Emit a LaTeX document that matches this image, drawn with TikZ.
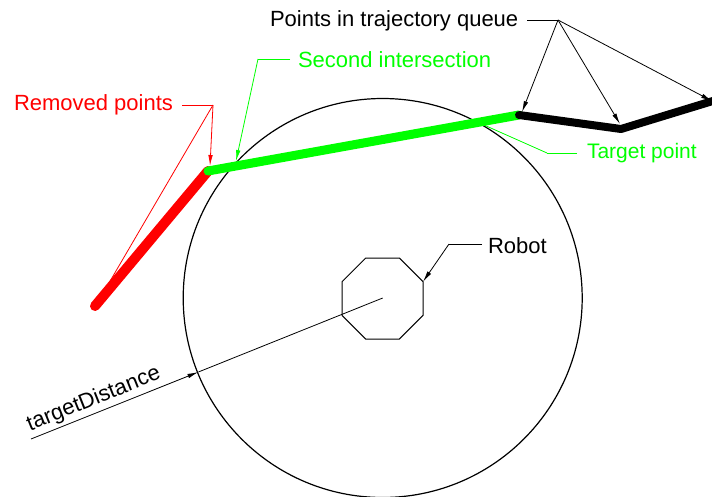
\documentclass[tikz,border=0pt]{standalone}
\usepackage{fontspec}
\setmainfont{Liberation Sans}
\usetikzlibrary{arrows.meta}
\definecolor{myred}{RGB}{255,0,0}
\definecolor{mygreen}{RGB}{0,255,0}
\begin{document}
\begin{tikzpicture}[x=1pt,y=-1pt,
  font=\fontsize{22}{26}\selectfont,
  lbl/.style={inner sep=0pt, outer sep=0pt, anchor=base west},
  leader/.style={line width=0.8pt, -{Latex[length=11pt,width=4.5pt]}},
  plainline/.style={line width=0.8pt},
  thickred/.style={myred, line width=10pt, line cap=round},
  thickgreen/.style={mygreen, line width=9pt, line cap=round},
  thickblack/.style={black, line width=8pt, line cap=round, line join=round},
  outline/.style={line width=1.2pt}
]
\useasboundingbox (0,0) rectangle (712,496);

% key points
\coordinate (C) at (382.7,298);
\coordinate (pR) at (95,306);
\coordinate (pG) at (208,171);
\coordinate (pB1) at (519,115);
\coordinate (pB2) at (621,129);
\coordinate (pB3) at (716,100);
\coordinate (tgt) at (470.5,119);
\coordinate (dimfar) at (31,439);
\coordinate (dimcirc) at (198.4,372);

% circle
\draw[outline] (C) circle[radius=199.5];

% octagon
\draw[plainline, line width=1pt] (365.7,258) -- (399.3,258) -- (423,281.7) -- (423,315.3)
  -- (399.3,339) -- (365.7,339) -- (342,315.3) -- (342,281.7) -- cycle;
\coordinate (rv) at (423,281.7);

% target point leader (under the green line)
\node[lbl, text=mygreen, font=\fontsize{21}{25}\selectfont] (ttp) at (587,158) {Target point};
\coordinate (tpk) at (547,153);
\draw[plainline, mygreen] (577,153) coordinate (tps) -- (tpk);
\draw[leader, mygreen] (tpk) -- (tgt);

% removed points leader lines (under the red)
\node[lbl, text=myred] (trp) at (14,110) {Removed points};
\coordinate (rpk) at (213,105);
\draw[plainline, myred] (182,105) coordinate (rps) -- (rpk);
\draw[leader, myred] (rpk) -- (99,300) coordinate (rpa);

% thick trajectory
\draw[thickred] (pR) -- (pG);
\draw[thickgreen] (pG) -- (pB1);
\draw[thickblack] (pB1) -- (pB2) -- (pB3);

\draw[leader, myred] (rpk) -- (210,166);

% second intersection
\node[lbl, text=mygreen] (tsi) at (298,67) {Second intersection};
\coordinate (sik) at (258,59);
\draw[plainline, mygreen] (290,59) -- (sik);
\draw[leader, mygreen] (sik) -- (236,161);

% points in trajectory queue
\node[lbl] (tq) at (270,26) {Points in trajectory queue};
\coordinate (qk) at (558,20);
\draw[plainline] (527,20) -- (qk);
\draw[leader] (qk) -- (522,112);
\draw[leader] (qk) -- (620,124);
\draw[leader] (qk) -- (712,101);

% robot
\node[lbl] (trb) at (488,253) {Robot};
\coordinate (rk) at (449,244);
\draw[plainline] (482,244) -- (rk);
\draw[leader] (rk) -- (rv);

% target distance dimension
\draw[leader] (dimfar) -- (dimcirc);
\draw[plainline] (dimcirc) -- (C);
\node[lbl, rotate=21.8] (ttd) at (30,431) {targetDistance};
\end{tikzpicture}
\end{document}
